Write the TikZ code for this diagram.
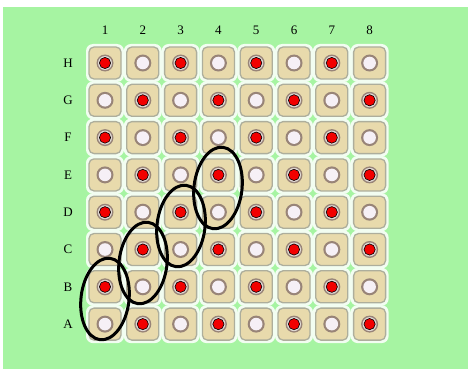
\documentclass[tikz,border=0pt]{standalone}
\usepackage{fontspec}
\setmainfont{Liberation Serif}
\usepackage{xcolor}
\definecolor{bggreen}{HTML}{A6F4A2}
\definecolor{celltan}{HTML}{E8DAAC}
\definecolor{cellrim}{HTML}{ADAE9C}
\definecolor{holering}{HTML}{988478}
\definecolor{holewhite}{HTML}{F6F0F6}
\definecolor{dotred}{HTML}{F20000}
\begin{document}
\begin{tikzpicture}[x=1pt,y=-1pt,
  cellbox/.style={fill=celltan,draw=cellrim,line width=1.3pt,rounded corners=5pt},
  cellhalo/.style={fill=white!85!bggreen,rounded corners=7pt},
  ringst/.style={fill=holering},
  whitest/.style={fill=holewhite},
  redst/.style={fill=dotred,draw=black,line width=0.6pt},
  lbl/.style={font=\fontsize{13}{14}\selectfont,inner sep=0pt},
  loop/.style={draw=black,line width=3pt}]
\useasboundingbox (0,0) rectangle (468,369);
\fill[bggreen] (3,7) rectangle (468,369);
% column labels
\foreach \c in {1,...,8}{
  \pgfmathsetmacro{\xx}{105+(\c-1)*37.8}
  \node[lbl] (col\c) at (\xx,30) {\c};
}
% row labels
\foreach \r/\name in {8/H,7/G,6/F,5/E,4/D,3/C,2/B,1/A}{
  \pgfmathsetmacro{\yy}{63+(8-\r)*37.3}
  \node[lbl] (row\name) at (68,\yy) {\name};
}
% cells
\foreach \r in {1,...,8}{
  \foreach \c in {1,...,8}{
    \pgfmathsetmacro{\xx}{105+(\c-1)*37.8}
    \pgfmathsetmacro{\yy}{63+(8-\r)*37.3}
    \fill[cellhalo] (\xx-19,\yy-19) rectangle (\xx+19,\yy+19);
  }
}
\foreach \r in {1,...,8}{
  \foreach \c in {1,...,8}{
    \pgfmathsetmacro{\xx}{105+(\c-1)*37.8}
    \pgfmathsetmacro{\yy}{63+(8-\r)*37.3}
    \path[cellbox] (\xx-16,\yy-16) rectangle (\xx+16,\yy+16);
    \fill[ringst] (\xx,\yy) circle (8.5);
    \pgfmathtruncatemacro{\pty}{mod(\r+\c,2)}
    \ifnum\pty=1
      \fill[white!70!holering] (\xx,\yy) circle (7);
      \path[redst] (\xx,\yy) circle (5.6);
    \else
      \fill[whitest] (\xx,\yy) circle (6.3);
    \fi
  }
}
% loops
\path[loop] (105,299) ellipse [x radius=24, y radius=41, rotate=-7];
\path[loop] (143,263) ellipse [x radius=24, y radius=41, rotate=-7];
\path[loop] (181,226) ellipse [x radius=24, y radius=41, rotate=-7];
\path[loop] (218,188) ellipse [x radius=24, y radius=41, rotate=-7];
\end{tikzpicture}
\end{document}
